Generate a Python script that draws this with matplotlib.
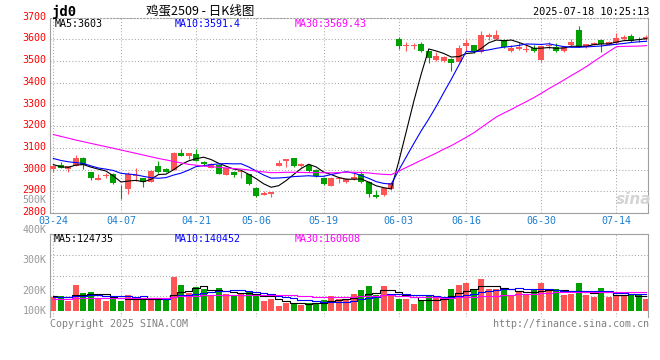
import numpy as np
import pandas as pd
import matplotlib
matplotlib.use('Agg')
import matplotlib.pyplot as plt
import matplotlib.transforms as mtransforms

# date ticks (trading-day index -> label)
tick_idx = [0, 9, 19, 27, 36, 46, 55, 65, 75]
tick_lbl = ['03-24', '04-07', '04-21', '05-06', '05-19', '06-03', '06-16', '06-30', '07-14']

opens = [3003, 3023, 3002, 3017, 3055, 2988, 2954, 2969, 2980, 2884,
         2911, 2971, 2963, 2945, 3018, 3003, 2999, 3078, 3065, 3072,
         3035, 3009, 3022, 2977, 2991, 2988, 2980, 2917, 2884, 2888,
         3019, 3042, 3055, 3019, 3022, 3000, 2963, 2927, 2956, 2945,
         2957, 2979, 2945, 2884, 2884, 2911, 3600, 3571, 3568, 3580,
         3548, 3505, 3500, 3510, 3494, 3568, 3572, 3540, 3610, 3602,
         3598, 3545, 3555, 3553, 3558, 3505, 3570, 3565, 3545, 3575,
         3645, 3565, 3574, 3598, 3575, 3582, 3600, 3615, 3602, 3600]
highs = [3020, 3037, 3019, 3068, 3057, 2990, 2979, 2986, 2986, 2930,
         2988, 3006, 2963, 2999, 3042, 3008, 3083, 3095, 3078, 3094,
         3042, 3029, 3026, 3009, 2994, 2996, 2980, 2922, 2902, 2897,
         3045, 3051, 3055, 3032, 3026, 3005, 2968, 2966, 2968, 2960,
         2983, 2996, 2947, 2907, 2917, 2940, 3612, 3586, 3582, 3589,
         3548, 3540, 3522, 3513, 3575, 3600, 3574, 3640, 3628, 3645,
         3600, 3572, 3589, 3577, 3572, 3572, 3590, 3585, 3571, 3600,
         3661, 3580, 3590, 3603, 3592, 3628, 3618, 3625, 3612, 3620]
lows = [2988, 3007, 2988, 3015, 3005, 2951, 2952, 2963, 2933, 2865,
        2887, 2950, 2919, 2945, 2983, 2988, 2999, 3065, 3049, 3042,
        3019, 3009, 2980, 2977, 2965, 2960, 2930, 2876, 2882, 2873,
        3019, 3014, 3014, 3011, 2991, 2965, 2930, 2927, 2937, 2940,
        2953, 2937, 2873, 2868, 2881, 2908, 3556, 3546, 3556, 3543,
        3490, 3500, 3494, 3456, 3494, 3548, 3535, 3535, 3595, 3600,
        3559, 3540, 3552, 3543, 3540, 3498, 3555, 3540, 3543, 3563,
        3563, 3560, 3572, 3540, 3572, 3580, 3595, 3590, 3589, 3597]
closes = [3018, 3009, 3019, 3052, 3020, 2960, 2962, 2977, 2937, 2882,
          2982, 2977, 2945, 2994, 2991, 2991, 3078, 3065, 3078, 3042,
          3025, 3025, 2980, 3009, 2977, 2996, 2934, 2879, 2891, 2897,
          3032, 3051, 3019, 3028, 2996, 2970, 2934, 2962, 2960, 2957,
          2968, 2942, 2887, 2876, 2914, 2940, 3571, 3575, 3572, 3548,
          3512, 3525, 3518, 3490, 3558, 3582, 3542, 3620, 3620, 3620,
          3566, 3558, 3565, 3556, 3547, 3570, 3574, 3547, 3563, 3588,
          3565, 3578, 3585, 3578, 3590, 3605, 3612, 3592, 3595, 3611]
volume_k = [117, 122, 83, 214, 148, 156, 103, 83, 111, 83,
            131, 97, 97, 89, 103, 97, 281, 214, 153, 198,
            186, 131, 189, 145, 131, 139, 156, 131, 81, 103,
            39, 67, 61, 50, 70, 67, 89, 122, 103, 103,
            139, 173, 206, 136, 206, 145, 97, 97, 56, 83,
            131, 111, 103, 181, 214, 231, 173, 264, 181, 181,
            181, 131, 159, 139, 173, 231, 173, 181, 131, 139,
            231, 131, 117, 189, 117, 131, 131, 131, 131, 103]

# sessions before 03-24 (only feed the moving averages)
prev_close = [3264, 3274, 3307, 3248, 3188, 3190, 3205, 3165, 3110, 3216,
              3211, 3179, 3228, 3225, 3194, 3281, 3268, 3281, 3162, 3145,
              3100, 3080, 3090, 3060, 3070, 3060, 3030, 3000, 3010]
prev_vol_k = [95, 90, 100, 85, 98, 92, 100, 88, 97, 80,
              95, 100, 90, 85, 98, 93, 96, 88, 96, 98,
              108, 115, 110, 113, 115, 130, 115, 120, 127]

price_ma_lbl = ['MA5:3603', 'MA10:3591.4', 'MA30:3569.43']
vol_ma_lbl = ['MA5:124735', 'MA10:140452', 'MA30:160608']
vol_axis_lbl = ['500K', '400K', '300K', '200K', '100K']

UP = '#ff5555'
DOWN = '#00a000'
MA_COLORS = ['black', '#0000ff', '#ff00ff']
GRID = '#a8a8a8'
MONO = 'DejaVu Sans Mono'

plt.rcParams['font.family'] = [MONO, 'Noto Sans CJK SC']

W, H = 660, 360
def fx(px):
    return px / W
def fy(py):
    return 1 - py / H

n = len(closes)
x = np.arange(n)
o = np.array(opens, float)
c = np.array(closes, float)
hi = np.array(highs, float)
lo = np.array(lows, float)
vol = np.array(volume_k, float) * 1000
colors = [UP if cc >= oo else DOWN for oo, cc in zip(o, c)]

pc = pd.Series(prev_close + closes, dtype=float)
pv = pd.Series(prev_vol_k + volume_k, dtype=float) * 1000
npre = len(prev_close)
price_ma = [pc.rolling(k).mean().values[npre:] for k in (5, 10, 30)]
vol_ma = [pv.rolling(k).mean().values[npre:] for k in (5, 10, 30)]

fig = plt.figure(figsize=(6.6, 3.6), dpi=100)
fig.patch.set_facecolor('white')

# ---- price panel
ax = fig.add_axes([fx(50), fy(213.2), fx(598), (213.2 - 17.6) / H])
ax.set_xlim(-0.45, 79.2)
ax.set_ylim(2800, 3700)

ax.vlines(x, lo, hi, colors=colors, lw=0.8, zorder=2)
body = np.maximum(np.abs(c - o), 3.0)
ax.bar(x, body, bottom=np.minimum(o, c), width=0.8, color=colors, lw=0, zorder=3)
for ma, col in zip(price_ma, MA_COLORS):
    ax.plot(x, ma, color=col, lw=0.8, zorder=4)

ax.set_yticks(np.arange(2800, 3701, 100))
ax.set_yticklabels([str(v) for v in range(2800, 3701, 100)])
ax.set_xticks(tick_idx)
ax.set_xticklabels(tick_lbl)
ax.tick_params(axis='y', length=0, pad=2.5, labelsize=7.2, labelcolor='#ff0000')
ax.tick_params(axis='x', length=0, pad=2.0, labelsize=7.2, labelcolor='#1f7fcf')
shift = mtransforms.ScaledTranslation(0, 2 / 100, fig.dpi_scale_trans)
for lab in ax.get_yticklabels():
    lab.set_transform(lab.get_transform() + shift)
ax.grid(True, color=GRID, ls=(0, (1, 2)), lw=0.75)
for s in ax.spines.values():
    s.set_color('#a0a0a0')
    s.set_linewidth(0.8)
ax.spines['top'].set_linestyle((0, (1, 2)))

# ---- volume panel
vax = fig.add_axes([fx(50), fy(317), fx(598), 83 / H])
vax.set_xlim(-0.45, 79.2)
vax.set_ylim(-50e3, 643e3)
vax.bar(x, vol, width=0.8, color=colors, lw=0, zorder=2)
for ma, col in zip(vol_ma, MA_COLORS):
    vax.plot(x, ma, color=col, lw=0.8, drawstyle='steps-mid', zorder=3)
vax.set_yticks(np.linspace(-50e3, 643e3, 5)[1:-1])
vax.set_xticks(tick_idx)
vax.tick_params(length=0, labelleft=False, labelbottom=False)
vax.grid(True, color=GRID, ls=(0, (1, 2)), lw=0.75)
for s in vax.spines.values():
    s.set_color('#a0a0a0')
    s.set_linewidth(0.8)
vax.spines['bottom'].set_visible(False)

for lbl, py in zip(vol_axis_lbl, [200, 230, 260, 291, 311]):
    fig.text(fx(46.5), fy(py), lbl, ha='right', va='center', fontsize=7.2, color='#999999')

# ---- labels
for lbl, px, col in zip(price_ma_lbl, [55, 175, 295], MA_COLORS):
    fig.text(fx(px), fy(24), lbl, ha='left', va='center', fontsize=7.2, color=col)
for lbl, px, col in zip(vol_ma_lbl, [54, 175, 295], MA_COLORS):
    fig.text(fx(px), fy(239), lbl, ha='left', va='center', fontsize=7.2, color=col)

fig.text(fx(51), fy(12), 'jd0', ha='left', va='center', fontsize=10,
         fontweight='bold', color='black')
fig.text(fx(200), fy(11), '鸡蛋2509 - 日K线图', ha='center', va='center', fontsize=9,
         family=['Noto Sans CJK SC', 'DejaVu Sans'], color='black')
fig.text(fx(649), fy(12), '2025-07-18 10:25:13', ha='right', va='center',
         fontsize=7.4, color='black')
fig.text(fx(50), fy(324), 'Copyright 2025 SINA.COM', ha='left', va='center',
         fontsize=7.2, color='#808080')
fig.text(fx(649), fy(324), 'http://finance.sina.com.cn', ha='right', va='center',
         fontsize=7.2, color='#808080')
fig.text(fx(634), fy(199), 'sina', ha='center', va='center', fontsize=11,
         fontstyle='italic', fontweight='bold', color='#d4d4d4',
         family=['DejaVu Sans'], zorder=1)

fig.savefig('out.png', dpi=100, facecolor='white')
